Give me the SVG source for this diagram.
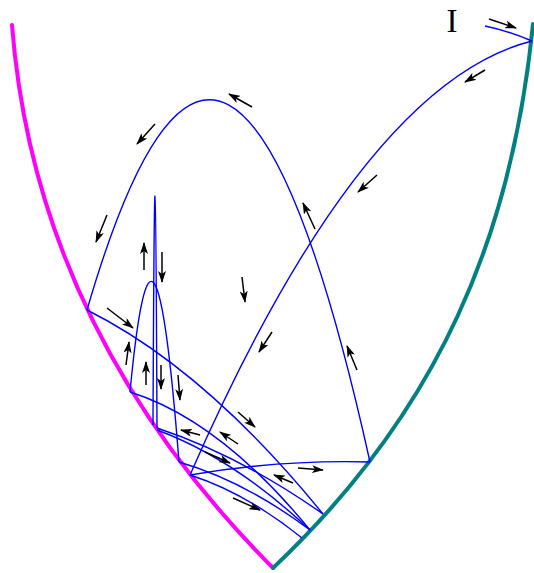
<svg xmlns="http://www.w3.org/2000/svg" width="534" height="573" viewBox="0 0 534 573">
<defs>
<marker id="ah" markerUnits="userSpaceOnUse" markerWidth="12" markerHeight="8" refX="11" refY="4" orient="auto">
<path d="M0,0 L12,4 L0,8 L3,4 Z" fill="#000"/>
</marker>
<style>
.wall{fill:none;stroke-width:4;stroke-linecap:round}
.tr{fill:none;stroke:#0000ff;stroke-width:1.4}
.ar{stroke:#000;stroke-width:1.5;marker-end:url(#ah)}
</style>
</defs>
<rect width="534" height="573" fill="#fff"/>
<g id="walls">
<path id="magenta-wall" class="wall" stroke="#ff00ff" d="M12,25 C27,218 108,402 273,568"/>
<path id="teal-wall" class="wall" stroke="#008080" d="M533,24 C512.3,234 440,410 273,568"/>
</g>
<g id="label-I"><text x="452" y="32" font-family="Liberation Serif, serif" font-size="33" text-anchor="middle">I</text></g>
<g id="connectors">
<path class="tr" d="M485,26 Q509,31 532,41"/>
<path class="tr" d="M532,41 Q361,84 190,475"/>
<path class="tr" d="M190,475 Q280,459.5 370,462"/>
<path class="tr" d="M370,462 Q228.5,-176.4 87,310"/>
<path class="tr" d="M87,310 Q205,368.8 323,514"/>
<path class="tr" d="M323,514 Q240,455.5 157,428"/>
<path class="tr" d="M153,425 Q155,-34.5 157,428"/>
<path class="tr" d="M130,392 Q154,140 179,462"/>
<path class="tr" d="M130,392 Q220,420.2 310,530"/>
<path class="tr" d="M157,430 Q233.5,458 310,530"/>
<path class="tr" d="M179,462 Q244.5,481 310,530"/>
<path class="tr" d="M190,475 Q246,492.9 302,538"/>
</g>
<g id="arrows">
<line class="ar" x1="489" y1="19" x2="516" y2="28"/>
<line class="ar" x1="485" y1="70" x2="465" y2="82"/>
<line class="ar" x1="377" y1="175" x2="358" y2="192"/>
<line class="ar" x1="272" y1="332" x2="259" y2="352"/>
<line class="ar" x1="252" y1="107" x2="229" y2="94"/>
<line class="ar" x1="155" y1="124" x2="137" y2="144"/>
<line class="ar" x1="107" y1="215" x2="96" y2="242"/>
<line class="ar" x1="315" y1="229" x2="303" y2="203"/>
<line class="ar" x1="357" y1="370" x2="347" y2="346"/>
<line class="ar" x1="144" y1="270" x2="144" y2="243"/>
<line class="ar" x1="162" y1="252" x2="162" y2="282"/>
<line class="ar" x1="242" y1="277" x2="245" y2="302"/>
<line class="ar" x1="107" y1="308" x2="133" y2="328"/>
<line class="ar" x1="126" y1="365" x2="129" y2="342"/>
<line class="ar" x1="146" y1="385" x2="146" y2="362"/>
<line class="ar" x1="161" y1="365" x2="161" y2="389"/>
<line class="ar" x1="178" y1="375" x2="180" y2="400"/>
<line class="ar" x1="238" y1="412" x2="255" y2="427"/>
<line class="ar" x1="200" y1="435" x2="181" y2="430"/>
<line class="ar" x1="238" y1="444" x2="220" y2="432"/>
<line class="ar" x1="205" y1="452" x2="230" y2="463"/>
<line class="ar" x1="293" y1="483" x2="274" y2="475"/>
<line class="ar" x1="298" y1="468" x2="323" y2="470"/>
<line class="ar" x1="233" y1="498" x2="260" y2="510"/>
</g>
</svg>
